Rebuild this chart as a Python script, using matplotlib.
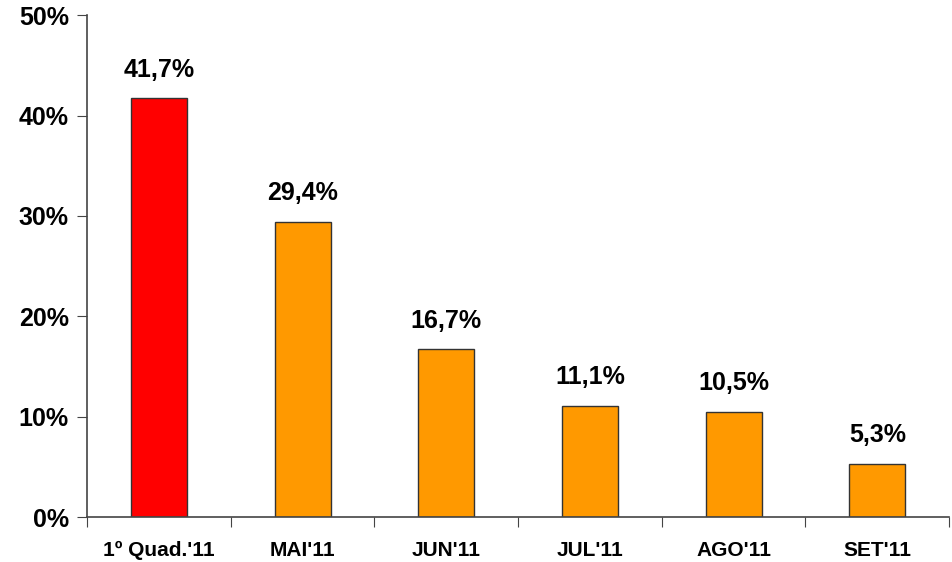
import matplotlib
matplotlib.use('Agg')
import matplotlib.pyplot as plt
import numpy as np

categories = ["1º Quad.'11", "MAI'11", "JUN'11", "JUL'11", "AGO'11", "SET'11"]
values = [41.7, 29.4, 16.7, 11.1, 10.5, 5.3]
labels = ["41,7%", "29,4%", "16,7%", "11,1%", "10,5%", "5,3%"]
colors = ['#FF0000'] + ['#FF9900'] * 5

plt.rcParams['font.family'] = ['Liberation Sans', 'DejaVu Sans']
plt.rcParams['font.weight'] = 'bold'

fig = plt.figure(figsize=(9.52, 5.62), dpi=100)
ax = fig.add_axes([0.0914, 0.080, 0.9056, 0.893])

x = np.arange(len(categories)) + 0.5
bars = ax.bar(x, values, width=0.39, color=colors, edgecolor='#333333', linewidth=1.0)

for xi, v, lab in zip(x, values, labels):
    ax.annotate(lab, (xi, v), xytext=(0, 12), textcoords='offset points',
                ha='center', va='bottom', fontsize=18, fontweight='bold')

ax.set_xlim(0, len(categories))
ax.set_ylim(0, 50)
ax.set_yticks(np.arange(0, 51, 10))
ax.set_yticklabels([f"{t}%" for t in range(0, 51, 10)], fontsize=18, fontweight='bold')
ax.set_xticks(np.arange(0, len(categories) + 1))
ax.set_xticklabels([])
ax.set_xticks(x, minor=True)
ax.set_xticklabels(categories, minor=True, fontsize=15, fontweight='bold')
ax.tick_params(axis='x', which='minor', length=0, pad=17)
ax.tick_params(axis='x', which='major', length=7, direction='out', color='#444444')
ax.tick_params(axis='y', length=7, direction='out', color='#444444', pad=6)

for s in ['top', 'right']:
    ax.spines[s].set_visible(False)
for s in ['left', 'bottom']:
    ax.spines[s].set_color('#444444')
    ax.spines[s].set_linewidth(1.2)

plt.savefig('out.png', dpi=100)
